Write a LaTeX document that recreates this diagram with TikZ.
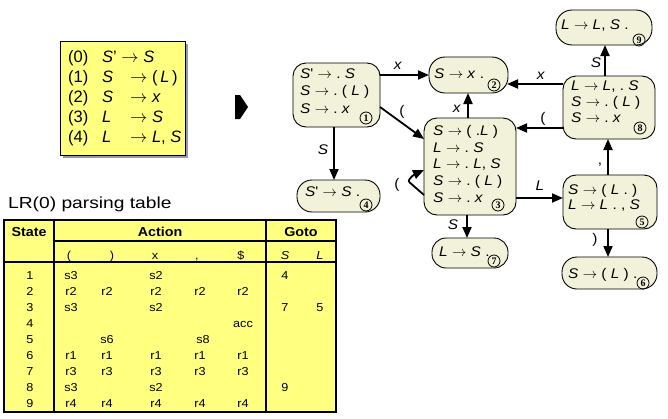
\documentclass[tikz,border=0pt]{standalone}
\usepackage{fontspec}
\setmainfont{Liberation Sans}
\newfontfamily\numfont{Liberation Serif}
\newfontfamily\tabfont[FakeStretch=1.1]{Liberation Sans}
\newfontfamily\stfont[FakeStretch=1.1]{Liberation Sans}
\newfontfamily\titlefont[FakeStretch=1.2]{Liberation Sans}
\usetikzlibrary{arrows.meta}
\definecolor{stfill}{RGB}{242,242,218}
\definecolor{ybox}{RGB}{255,255,128}
\definecolor{shadowc}{RGB}{150,150,190}
\newcommand{\arr}{\ensuremath{\rightarrow}}
\newcommand{\iS}{\textit{S}}
\newcommand{\iL}{\textit{L}}
\newcommand{\ix}{\textit{x}}
\begin{document}
\begin{tikzpicture}[x=1pt,y=-1pt,
  state/.style={draw=black, line width=0.9pt, fill=stfill, rounded corners=13pt, inner sep=0pt, outer sep=0pt},
  stxt/.style={anchor=base west, inner sep=0pt, font=\stfont\fontsize{14}{16}\selectfont},
  num/.style={circle, draw=black, line width=0.8pt, inner sep=0pt, minimum size=12pt, font=\numfont\bfseries\fontsize{10}{10}\selectfont},
  edge/.style={line width=1.8pt, -{Triangle[length=11pt,width=9pt]}},
  elab/.style={inner sep=0pt, font=\stfont\fontsize{14}{16}\selectfont},
  gtxt/.style={anchor=base west, inner sep=0pt, font=\fontsize{16.5}{19}\selectfont},
  tdat/.style={inner sep=0pt, anchor=base, font=\tabfont\fontsize{11.5}{13}\selectfont},
  thead/.style={inner sep=0pt, anchor=base, font=\tabfont\bfseries\fontsize{13}{15}\selectfont},
]
\fill[white] (0,0) rectangle (668,418);
\useasboundingbox (0,0) rectangle (668,418);

% grammar box
\fill[shadowc] (63,44) rectangle (188,158);
\fill[ybox] (60,41) rectangle (185,155);
\draw[line width=0.9pt] (60,41) rectangle (185,155);
\node[gtxt] (g0n) at (68,62.5) {(0)};
\node[gtxt] (g0p) at (102,62.5) {\iS'\ \arr\ \iS};
\node[gtxt] (g1n) at (68,82.5) {(1)};
\node[gtxt] (g1p) at (102,82.5) {\makebox[28pt][l]{\iS}\arr\ (\,\iL\,)};
\node[gtxt] (g2n) at (68,102.5) {(2)};
\node[gtxt] (g2p) at (102,102.5) {\makebox[28pt][l]{\iS}\arr\ \ix};
\node[gtxt] (g3n) at (68,122.5) {(3)};
\node[gtxt] (g3p) at (102,122.5) {\makebox[28pt][l]{\iL}\arr\ \iS};
\node[gtxt] (g4n) at (68,142) {(4)};
\node[gtxt] (g4p) at (102,142) {\makebox[28pt][l]{\iL}\arr\ \iL, \iS};

% marker
\fill (235,95) -- (240,95) -- (248,107) -- (240,119) -- (235,119) -- cycle;

% states
\node[state, minimum width=87pt, minimum height=64pt] (s1) at (336.5,95) {};
\node[state, minimum width=79pt, minimum height=36pt, rounded corners=16pt] (s2) at (468.5,75) {};
\node[state, minimum width=92pt, minimum height=97pt] (s3) at (470,166.5) {};
\node[state, minimum width=83pt, minimum height=32pt, rounded corners=15pt] (s4) at (338.5,196) {};
\node[state, minimum width=76pt, minimum height=30pt, rounded corners=14pt] (s7) at (470,253) {};
\node[state, minimum width=96pt, minimum height=35pt, rounded corners=16pt] (s9) at (604,27.5) {};
\node[state, minimum width=92pt, minimum height=63pt] (s8) at (609,107.5) {};
\node[state, minimum width=94pt, minimum height=54pt] (s5) at (610,202) {};
\node[state, minimum width=95pt, minimum height=32pt, rounded corners=15pt] (s6) at (609.5,273) {};

% state texts
\node[stxt] (t1a) at (300,78) {\iS'\ \arr\ .\ \iS};
\node[stxt] (t1b) at (300,95.5) {\iS\ \arr\ .\ (\ \iL\ )};
\node[stxt] (t1c) at (300,113) {\iS\ \arr\ .\ \ix};
\node[stxt] (t2a) at (434,78) {\iS\ \arr\ \ix\ .};
\node[stxt] (t3a) at (433,135.5) {\iS\ \arr\ (\ .\iL\ )};
\node[stxt] (t3b) at (433,152) {\iL\ \arr\ .\ \iS};
\node[stxt] (t3c) at (433,168.7) {\iL\ \arr\ .\ \iL, \iS};
\node[stxt] (t3d) at (433,185.3) {\iS\ \arr\ .\ (\ \iL\ )};
\node[stxt] (t3e) at (433,202) {\iS\ \arr\ .\ \ix};
\node[stxt] (t4a) at (305,196.5) {\iS'\ \arr\ \iS\ .};
\node[stxt] (t7a) at (439,256.5) {\iL\ \arr\ \iS\ .};
\node[stxt] (t9a) at (561,29.7) {\iL\ \arr\ \iL, \iS\ .};
\node[stxt] (t8a) at (571,90.7) {\iL\ \arr\ \iL, .\ \iS};
\node[stxt] (t8b) at (571,106.3) {\iS\ \arr\ .\ (\ \iL\ )};
\node[stxt] (t8c) at (571,122) {\iS\ \arr\ .\ \ix};
\node[stxt] (t5a) at (568,194.5) {\iS\ \arr\ (\ \iL\ .\ )};
\node[stxt] (t5b) at (568,209) {\iL\ \arr\ \iL\ .\ ,\ \iS};
\node[stxt] (t6a) at (568,278) {\iS\ \arr\ (\ \iL\ )\ .};

% circled numbers
\node[num] (n1) at (366,118) {1};
\node[num] (n2) at (494,85) {2};
\node[num] (n3) at (498,205) {3};
\node[num] (n4) at (366,205) {4};
\node[num] (n7) at (494,261) {7};
\node[num] (n9) at (639,40) {9};
\node[num] (n8) at (640,128) {8};
\node[num] (n5) at (642,222) {5};
\node[num] (n6) at (643,283) {6};

% edges
\draw[edge] (s1.east |- 0,75) -- (s2.west |- 0,75);
\draw[edge] (s1.east |- 0,107) -- (s3.west |- 0,139);
\draw[edge] (s1.south -| 334,0) -- (s4.north -| 334,0);
\draw[edge] (s3.north -| 468,0) -- (s2.south -| 468,0);
\draw[edge] (s8.west |- 0,84) -- (507,84);
\draw[edge] (s8.west |- 0,128) -- (s3.east |- 0,128);
\draw[edge] (s8.north -| 605,0) -- (s9.south -| 605,0);
\draw[edge] (s5.north -| 608,0) -- (s8.south -| 608,0);
\draw[edge] (s3.east |- 0,198) -- (s5.west |- 0,198);
\draw[edge] (s5.south -| 608,0) -- (s6.north -| 608,0);
\draw[edge] (s3.south -| 467,0) -- (s7.north -| 467,0);
\draw[edge, rounded corners=2pt] (s3.west |- 0,195) -- (408,181) -- (413,175) -- (s3.west |- 0,170);

% edge labels
\node[elab] (l12) at (398,66) {\ix};
\node[elab] (l13) at (402,112) {(};
\node[elab] (l14) at (323,150) {\iS};
\node[elab] (l32) at (457,109) {\ix};
\node[elab] (l82) at (541,76) {\ix};
\node[elab] (l83) at (543,119) {(};
\node[elab] (l89) at (596,63) {\iS};
\node[elab] (l58) at (600,165) {,};
\node[elab] (l35) at (540,186) {\iL};
\node[elab] (l56) at (595,240) {)};
\node[elab] (l37) at (453,225) {\iS};
\node[elab] (l33) at (397,185) {(};

% table
\node[anchor=base west, inner sep=0pt, font=\titlefont\fontsize{16}{19}\selectfont] (title) at (8,208) {LR(0) parsing table};
\fill[ybox] (4,220) rectangle (336,412);
\draw[line width=2pt] (4,220) rectangle (336,412);
\draw[line width=2pt] (54,220) -- (54,412);
\draw[line width=2pt] (266,220) -- (266,412);
\draw[line width=1.3pt] (54,241) -- (336,241);
\draw[line width=2pt] (4,262) -- (336,262);
\node[thead] (hs) at (29,236.5) {State};
\node[thead] (ha) at (160,236.5) {Action};
\node[thead] (hg) at (301,236.5) {Goto};
\node[tdat] (c1) at (69,259) {(};
\node[tdat] (c2) at (112,259) {)};
\node[tdat] (c3) at (155,259) {x};
\node[tdat] (c4) at (197,259) {,};
\node[tdat] (c5) at (241,259) {\$};
\node[tdat] (c6) at (285,259) {\textit{S}};
\node[tdat] (c7) at (320,259) {\textit{L}};
\foreach \r/\y in {1/279,2/295,3/311,4/327,5/343,6/359,7/375,8/391,9/407}
  \node[tdat] (r\r) at (30,\y) {\r};
% row 1
\node[tdat] at (71,279) {s3}; \node[tdat] at (156,279) {s2}; \node[tdat] at (285,279) {4};
% row 2
\foreach \xx in {71,107,156,200,243} \node[tdat] at (\xx,295) {r2};
% row 3
\node[tdat] at (71,311) {s3}; \node[tdat] at (156,311) {s2}; \node[tdat] at (285,311) {7}; \node[tdat] at (320,311) {5};
% row 4
\node[tdat] at (243,327) {acc};
% row 5
\node[tdat] at (107,343) {s6}; \node[tdat] at (203,343) {s8};
% row 6
\foreach \xx in {71,107,156,200,243} \node[tdat] at (\xx,359) {r1};
% row 7
\foreach \xx in {71,107,156,200,243} \node[tdat] at (\xx,375) {r3};
% row 8
\node[tdat] at (71,391) {s3}; \node[tdat] at (156,391) {s2}; \node[tdat] at (285,391) {9};
% row 9
\foreach \xx in {71,107,156,200,243} \node[tdat] at (\xx,407) {r4};
\end{tikzpicture}
\end{document}
